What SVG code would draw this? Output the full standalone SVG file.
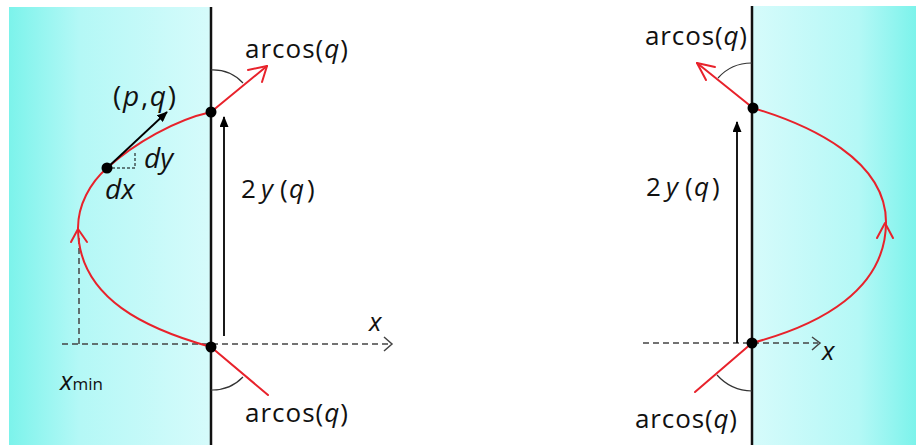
<svg xmlns="http://www.w3.org/2000/svg" width="916" height="445" viewBox="0 0 916 445">
<defs>
<linearGradient id="gl" x1="0" y1="0" x2="1" y2="0">
<stop offset="0" stop-color="#7cf3eb"/>
<stop offset="0.35" stop-color="#b4f8f6"/>
<stop offset="1" stop-color="#d6fbfb"/>
</linearGradient>
<linearGradient id="gr" x1="0" y1="0" x2="1" y2="0">
<stop offset="0" stop-color="#d6fbfb"/>
<stop offset="0.65" stop-color="#b4f8f6"/>
<stop offset="1" stop-color="#7cf3eb"/>
</linearGradient>
<marker id="ah" viewBox="0 0 12 10" refX="11" refY="5" markerWidth="6" markerHeight="5" orient="auto" markerUnits="strokeWidth">
<path d="M0,0 L12,5 L0,10 z" fill="#000"/>
</marker>
</defs>
<style>
.red{fill:none;stroke:#e8222b;stroke-width:2;stroke-linecap:round;stroke-linejoin:round}
.wall{stroke:#111;stroke-width:2.5}
.axis{fill:none;stroke:#444;stroke-width:1.5;stroke-dasharray:6,4}
.chev{fill:none;stroke:#444;stroke-width:1.5}
.arc{fill:none;stroke:#333;stroke-width:1.2}
.dot{fill:#000}
.blk{fill:none;stroke:#000;stroke-width:1.8}
.t{font-family:"Open Sans","Liberation Sans",sans-serif;font-size:26px;fill:#111}
.big{font-size:28px}
.sub{font-size:17px}
.i{font-style:italic}
</style>

<g id="left-panel">
<rect x="9" y="7" width="202" height="438" fill="url(#gl)"/>
</g>
<g id="right-panel">
<rect x="752" y="6" width="164" height="439" fill="url(#gr)"/>
</g>

<g id="connectors">
<line class="axis" x1="62" y1="344" x2="390" y2="344"/>
<path class="chev" d="M384,337 L392,344 L384,351"/>
<line class="axis" x1="79" y1="344" x2="79" y2="238" stroke-dasharray="5,4"/>
<line class="axis" x1="643" y1="343" x2="818" y2="343"/>
<path class="chev" d="M812,337 L820,343 L812,350"/>
<line class="wall" x1="211" y1="7" x2="211" y2="445"/>
<line class="wall" x1="752" y1="6" x2="752" y2="445"/>
<path class="red" d="M211,347 C150,330 78,300 78,228 C78,205 90,183 107,168 C135,143 175,120 211,112 L267,66"/>
<path class="red" d="M248,70 L267,66 L262,82"/>
<path class="red" d="M71,242 L78,229 L87,242"/>
<line class="red" x1="211" y1="347" x2="268" y2="395"/>
<path class="red" d="M752,343 C820,325 886,290 886,222 C886,160 810,125 753,108 L697,63"/>
<path class="red" d="M715,67 L697,63 L706,80"/>
<path class="red" d="M877,238 L885,223 L893,238"/>
<line class="red" x1="752" y1="343" x2="695" y2="392"/>
<path class="arc" d="M211,70 A42,42 0 0 1 243,83"/>
<path class="arc" d="M211,390 A43,43 0 0 0 243,377"/>
<path class="arc" d="M752,63 A45,45 0 0 0 718,78"/>
<path class="arc" d="M752,391 A48,48 0 0 1 717,375"/>
<line class="blk" x1="224" y1="336" x2="224" y2="117" marker-end="url(#ah)"/>
<line class="blk" x1="737" y1="343" x2="737" y2="122" marker-end="url(#ah)"/>
<line class="blk" x1="107" y1="168" x2="167" y2="112" stroke-width="2" marker-end="url(#ah)"/>
<path d="M107,168 L135,168 L135,153" fill="none" stroke="#000" stroke-width="1" stroke-dasharray="3,2"/>
</g>

<g id="points">
<circle class="dot" cx="211" cy="112" r="5.5"/>
<circle class="dot" cx="211" cy="347" r="5.5"/>
<circle class="dot" cx="107" cy="168" r="5.5"/>
<circle class="dot" cx="753" cy="108" r="5.5"/>
<circle class="dot" cx="752" cy="343" r="5.5"/>
</g>

<g id="labels">
<text class="t" x="245" y="58" textLength="103" lengthAdjust="spacing">arcos(<tspan class="i">q</tspan>)</text>
<text class="t" x="245" y="422" textLength="103" lengthAdjust="spacing">arcos(<tspan class="i">q</tspan>)</text>
<text class="t" x="645" y="45" textLength="102" lengthAdjust="spacing">arcos(<tspan class="i">q</tspan>)</text>
<text class="t" x="635" y="428" textLength="102" lengthAdjust="spacing">arcos(<tspan class="i">q</tspan>)</text>
<text class="t" y="198"><tspan x="241">2</tspan><tspan class="i" x="261">y</tspan><tspan x="280">(</tspan><tspan class="i" x="289">q</tspan><tspan x="307">)</tspan></text>
<text class="t" y="196"><tspan x="646">2</tspan><tspan class="i" x="666">y</tspan><tspan x="685">(</tspan><tspan class="i" x="694">q</tspan><tspan x="712">)</tspan></text>
<text class="t big" x="113" y="106" textLength="63" lengthAdjust="spacing">(<tspan class="i">p</tspan>,<tspan class="i">q</tspan>)</text>
<text class="t big i" x="144" y="168">dy</text>
<text class="t big i" x="105" y="199">dx</text>
<text class="t i" x="369" y="331">x</text>
<text class="t i" x="822" y="360">x</text>
<text class="t" x="60" y="390"><tspan class="i">x</tspan><tspan class="sub">min</tspan></text>
</g>
</svg>
